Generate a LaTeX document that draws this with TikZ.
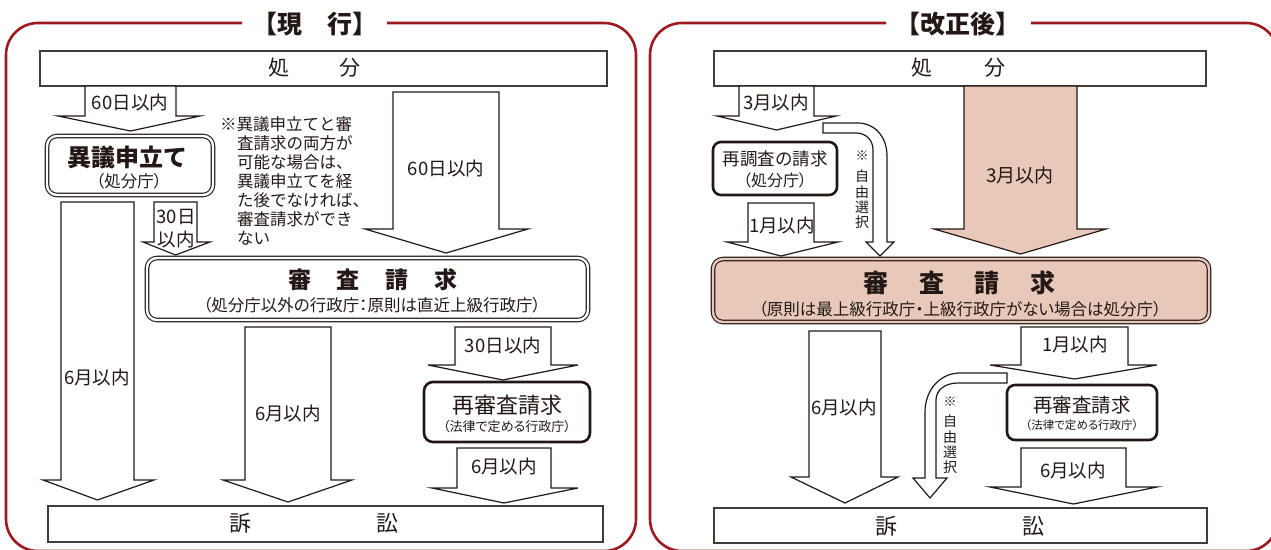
\documentclass[tikz,border=0pt]{standalone}
\usepackage{fontspec}
\setmainfont{Noto Sans CJK JP}
\newfontfamily\jpp[RawFeature=+palt]{Noto Sans CJK JP}
\newcommand{\fsz}[1]{\fontsize{#1}{#1}\selectfont}
\definecolor{ink}{HTML}{231815}
\definecolor{framered}{HTML}{9E1A20}
\definecolor{salmon}{HTML}{E8C9B9}
\tikzset{
  frame/.style={draw=framered, line width=2.6pt, rounded corners=32pt},
  plainbox/.style={draw=ink!85, line width=1.5pt, inner sep=0pt},
  dblbox/.style={draw=ink, line width=1.1pt, double=white, double distance=2.4pt, rounded corners=10pt, inner sep=0pt},
  thickbox/.style={draw=ink, line width=2.6pt, rounded corners=9pt, inner sep=0pt},
  blockarrow/.style={draw=ink, line width=1.2pt, fill=white, line join=miter},
  lab/.style={font=\fsz{18.5}},
  note/.style={font=\fsz{16.5}, anchor=west},
  vlab/.style={font=\fontsize{14}{15.2}\selectfont, align=center, anchor=north},
}
\newcommand{\blkarrow}[8][]{%
  \draw[blockarrow,#1] (#2,#4) -- (#2,#5) -- (#6,#5) -- ({(#2+#3)/2},#8) -- (#7,#5) -- (#3,#5) -- (#3,#4) -- cycle;}
\begin{document}
\begin{tikzpicture}[x=1pt,y=-1pt, every node/.style={text=ink, inner sep=0pt}]
\useasboundingbox (0,0) rectangle (1271,549);

% ---------- frames and titles ----------
\draw[frame] (242,23) -- (6,23) -- (6,551) -- (636,551) -- (636,23) -- (387,23);
\draw[frame] (886,23) -- (650,23) -- (650,551) -- (1278,551) -- (1278,23) -- (1031,23);
\node[font=\bfseries\fsz{25}] (ltitle) at (315,24) {【現　行】};
\node[font=\bfseries\fsz{25}] (rtitle) at (958,24) {【改正後】};

% ================= LEFT =================
\node[plainbox, minimum width=567pt, minimum height=35pt] (lshobun) at (323.5,68.5) {};
\node[font=\fsz{21}] (lshobunt) at (314.5,68) {処\hspace{50pt}分};

\blkarrow{85}{176}{86}{116}{58}{200}{131}
\node[lab] (la1) at (130,102) {60日以内};

\node[dblbox, minimum width=166pt, minimum height=59pt] (igi) at (130,165.5) {};
\node[font=\bfseries\fsz{24}] (igit) at (127,157) {異議申立て};
\node[font=\jpp\fsz{16.5}] (igis) at (129,181) {（処分庁）};

\node[note] (n1) at (220,124) {※異議申立てと審};
\node[note] (n2) at (237,143) {査請求の両方が};
\node[note] (n3) at (237,162) {可能な場合は、};
\node[note] (n4) at (237,181) {異議申立てを経};
\node[note] (n5) at (237,200) {た後でなければ、};
\node[note] (n6) at (237,219) {審査請求ができ};
\node[note] (n7) at (237,238) {ない};

\blkarrow{393}{499}{92}{229}{365}{528}{253}
\node[lab] (la2) at (446,168) {60日以内};

\blkarrow{61}{134}{202}{480}{43}{154}{500}
\node[lab] (la3) at (97,377) {6月以内};

\blkarrow{154}{197}{202}{242}{143}{210}{255}
\node[lab] (la4a) at (176,217) {30日};
\node[lab] (la4b) at (176,239) {以内};

\node[dblbox, minimum width=441pt, minimum height=62pt] (lshinsa) at (367.5,289) {};
\node[font=\bfseries\fsz{23}] (lshinsat) at (373,280) {審\hspace{26pt}査\hspace{26pt}請\hspace{26pt}求};
\node[font=\jpp\fsz{16.5}] (lshinsas) at (372,305) {（処分庁以外の行政庁：原則は直近上級行政庁）};

\blkarrow{245}{331}{327}{480}{223}{352}{502}
\node[lab] (la5) at (288,413) {6月以内};

\blkarrow{455}{551}{327}{365}{428}{578}{380}
\node[lab] (la6) at (503,345) {30日以内};

\node[thickbox, minimum width=166pt, minimum height=60pt] (lsai) at (507,412) {};
\node[font=\fsz{22}] (lsait) at (507,405) {再審査請求};
\node[font=\jpp\fsz{13}] (lsais) at (507,427) {（法律で定める行政庁）};

\blkarrow{457}{551}{448}{488}{432}{578}{503}
\node[lab] (la7) at (504,466) {6月以内};

\node[plainbox, minimum width=555pt, minimum height=36pt] (lsosho) at (325.5,524) {};
\node[font=\fsz{22}] (lsoshot) at (313.5,523) {訴\hspace{125pt}訟};

% ================= RIGHT =================
\node[plainbox, minimum width=492pt, minimum height=35pt] (rshobun) at (960,68.5) {};
\node[font=\fsz{21}] (rshobunt) at (958.5,68) {処\hspace{52pt}分};

\blkarrow{739}{814}{86}{116}{717}{836}{130}
\node[lab] (ra1) at (776,102) {3月以内};

% curved free-choice arrow 1
\draw[blockarrow] (823,123) -- (858,123) .. controls (874,123) and (887,136) .. (887,156)
  -- (887,242) -- (894,242) -- (880,256) -- (866,242) -- (873,242) -- (873,150)
  .. controls (873,140) and (866,133) .. (856,133) -- (823,133) -- cycle;
\node[font=\fsz{13}] (rv1a) at (862,156) {※};
\node[vlab] (rv1b) at (862,170) {自\\由\\選\\択};

\node[thickbox, rounded corners=8pt, minimum width=124pt, minimum height=53pt] (rsaich) at (775,168.5) {};
\node[font=\fsz{17.5}] (rsaicht) at (775,159) {再調査の請求};
\node[font=\jpp\fsz{16}] (rsaichs) at (775,180) {（処分庁）};

\blkarrow{748}{814}{203}{242}{727}{838}{256}
\node[lab] (ra2) at (782,225) {1月以内};

\blkarrow[fill=salmon]{964}{1077}{86}{229}{934}{1106}{254}
\node[lab, font=\fsz{19}] (ra3) at (1020,175) {3月以内};

\node[dblbox, fill=salmon, double=salmon, minimum width=496pt, minimum height=63pt] (rshinsa) at (961,290.5) {};
\node[font=\bfseries\fsz{25}] (rshinsat) at (959.5,283) {審\hspace{30.5pt}査\hspace{30.5pt}請\hspace{30.5pt}求};
\node[font=\jpp\fsz{16.5}] (rshinsas) at (960,309) {（原則は最上級行政庁・上級行政庁がない場合は処分庁）};

\blkarrow{809}{881}{331}{477}{791}{898}{503}
\node[lab] (ra4) at (844,407) {6月以内};

\blkarrow{1021}{1128}{327}{365}{990}{1157}{379}
\node[lab] (ra5) at (1075,344) {1月以内};

% curved free-choice arrow 2
\draw[blockarrow] (1007,373) -- (960,373) .. controls (940,373) and (925,390) .. (925,412)
  -- (925,478) -- (913,478) -- (930,498) -- (947,478) -- (936,478) -- (936,400)
  .. controls (936,390) and (945,383) .. (958,383) -- (1007,383) -- cycle;
\node[font=\fsz{13}] (rv2a) at (950,402) {※};
\node[vlab] (rv2b) at (950,415) {自\\由\\選\\択};

\node[thickbox, rounded corners=8pt, minimum width=150pt, minimum height=55pt] (rsai) at (1082,412.5) {};
\node[font=\fsz{19.5}] (rsait) at (1082,405) {再審査請求};
\node[font=\jpp\fsz{11.5}] (rsais) at (1082,425) {（法律で定める行政庁）};

\blkarrow{1021}{1126}{448}{487}{990}{1157}{504}
\node[lab] (ra6) at (1073,470) {6月以内};

\node[plainbox, minimum width=493pt, minimum height=35pt] (rsosho) at (960.5,525.5) {};
\node[font=\fsz{22}] (rsoshot) at (959.5,526) {訴\hspace{125pt}訟};
\end{tikzpicture}
\end{document}
